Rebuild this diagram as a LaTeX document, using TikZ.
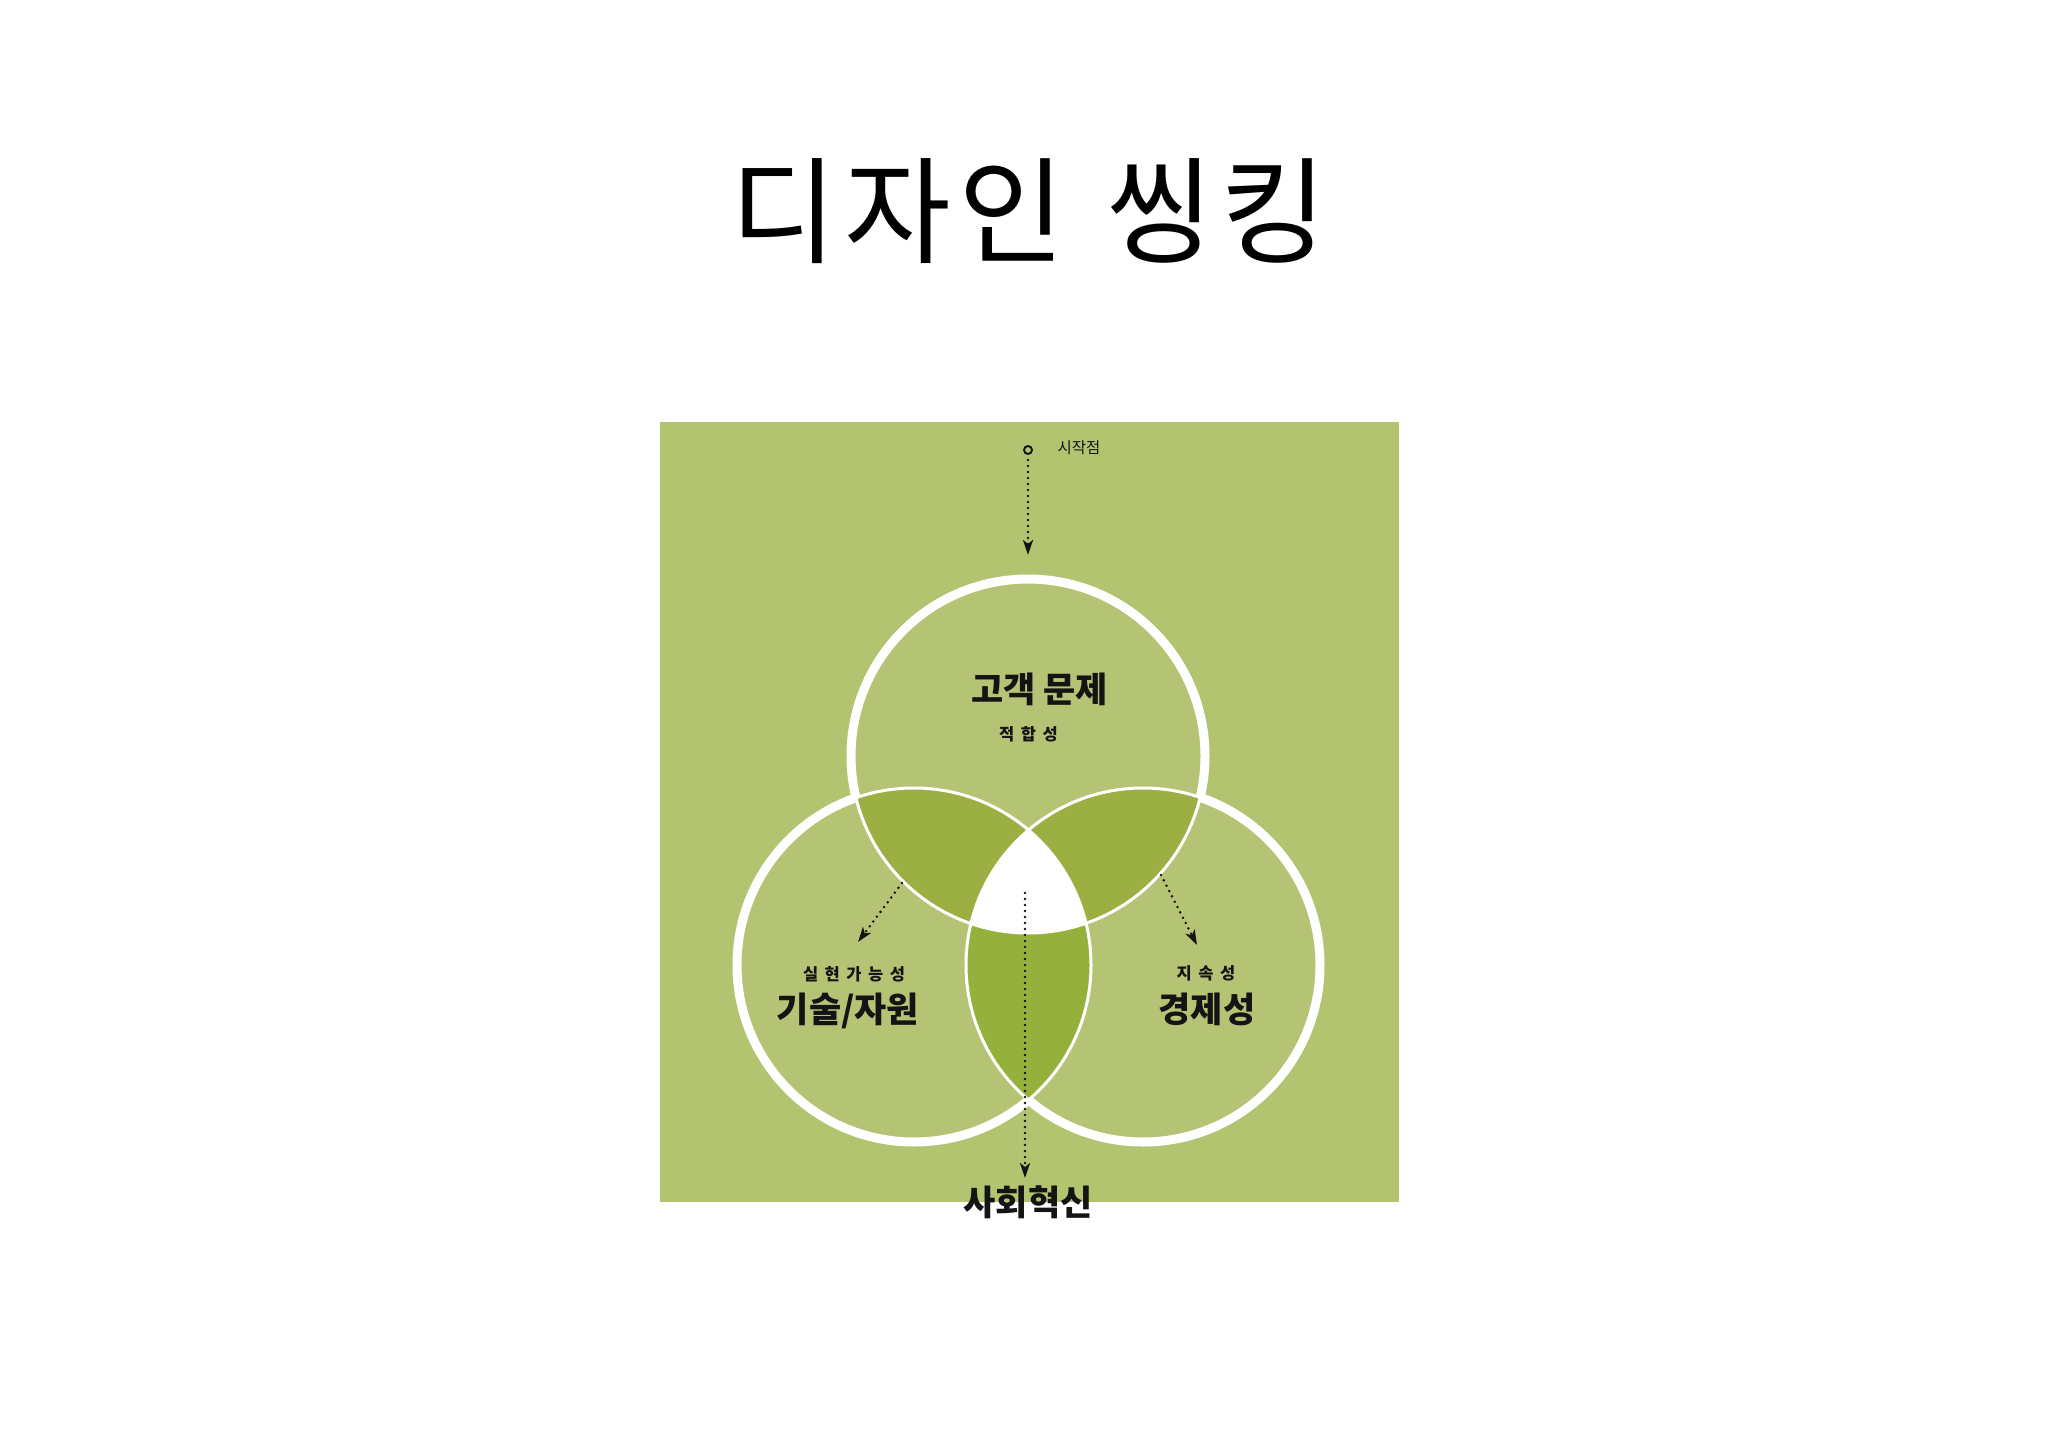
\documentclass[tikz,border=0pt]{standalone}
\usepackage{fontspec}
\usepackage{tikz}
\usetikzlibrary{arrows.meta}
\newfontfamily\kr{Noto Sans CJK KR}
\definecolor{bggreen}{RGB}{179,196,112}
\definecolor{ringgreen}{RGB}{181,196,116}
\definecolor{lensgreen}{RGB}{155,175,66}
\definecolor{lowgreen}{RGB}{150,176,60}
\definecolor{ink}{RGB}{20,20,20}
\newcommand{\gp}{\hskip6.5pt}
\newcommand{\tgp}{\hskip7pt}

\tikzset{
  dotarrow/.style={ink, line width=2.8pt, line cap=round, dash pattern=on 0pt off 6pt,
    -{Stealth[length=15pt,width=10pt,inset=4pt]}},
  bigtext/.style={font=\kr\bfseries\fontsize{35}{40}\selectfont, text=ink, inner sep=0pt},
  smalltext/.style={font=\kr\bfseries\fontsize{16.5}{20}\selectfont, text=ink, inner sep=0pt},
}

\begin{document}
\begin{tikzpicture}[x=1pt, y=-1pt]
    \useasboundingbox (0,0) rectangle (2048,1447);
    \fill[white] (0,0) rectangle (2048,1447);
    \fill[bggreen] (660,422) rectangle (1399,1202);

    \def\rr{177pt}
    \coordinate (ctop) at (1028,756);
    \coordinate (cleft) at (914,965);
    \coordinate (cright) at (1143,965);

    % circles and overlaps
    \foreach \c in {ctop,cleft,cright} \fill[ringgreen] (\c) circle (\rr);
    \begin{scope}
        \clip (ctop) circle (\rr);
        \fill[lensgreen] (cleft) circle (\rr);
        \fill[lensgreen] (cright) circle (\rr);
    \end{scope}
    \begin{scope}
        \clip (cleft) circle (\rr);
        \fill[lowgreen] (cright) circle (\rr);
    \end{scope}
    \begin{scope}
        \clip (ctop) circle (\rr);
        \clip (cleft) circle (\rr);
        \fill[white] (cright) circle (\rr);
    \end{scope}

    % white outlines: thin inside, thick on the outer edge
    \foreach \c in {ctop,cleft,cright} \draw[white, line width=3pt] (\c) circle (\rr);
    \foreach \c/\a/\b in {ctop/cleft/cright, cleft/ctop/cright, cright/ctop/cleft} {
        \begin{scope}[even odd rule]
            \clip (0,0) rectangle (2048,1447) (\a) circle (\rr);
            \clip (0,0) rectangle (2048,1447) (\b) circle (\rr);
            \draw[white, line width=9pt] (\c) circle (\rr);
        \end{scope}
    }

    % texts
    \node[font=\kr\fontsize{116}{130}\selectfont, inner sep=0pt] (title) at (1029,211)
        {디\tgp 자\tgp 인\hskip16pt{} 씽\tgp 킹};
    \node[bigtext] (customer) at (1039.5,689.5) {고객 문제};
    \node[smalltext] (fit) at (1028.5,734.5) {적\gp 합\gp 성};
    \node[smalltext] (feasible) at (854,974.5) {실\gp 현\gp 가\gp 능\gp 성};
    \node[bigtext] (tech) at (848,1011) {기술/자원};
    \node[smalltext] (sustain) at (1206,973) {지\gp 속\gp 성};
    \node[bigtext] (econ) at (1207,1009) {경제성};
    \node[bigtext] (social) at (1028,1202) {사회혁신};
    \node[font=\kr\fontsize{15.5}{18}\selectfont, text=ink, inner sep=0pt] (startlbl) at (1079,447.5) {시작점};

    % arrows
    \node[draw=ink, line width=1.9pt, circle, minimum size=8pt, inner sep=0pt] (start) at (1028,450) {};
    \coordinate (topin) at (1028,555);
    \coordinate (lfrom) at (902,883);
    \coordinate (lto) at (858,942);
    \coordinate (rfrom) at (1161,875);
    \coordinate (rto) at (1197,945);
    \coordinate (cfrom) at (1025,893);
    \coordinate (cto) at (1025,1178);
    \draw[dotarrow, shorten <=5pt] (start) -- (topin);
    \draw[dotarrow] (lfrom) -- (lto);
    \draw[dotarrow] (rfrom) -- (rto);
    \draw[dotarrow] (cfrom) -- (cto);
\end{tikzpicture}
\end{document}
